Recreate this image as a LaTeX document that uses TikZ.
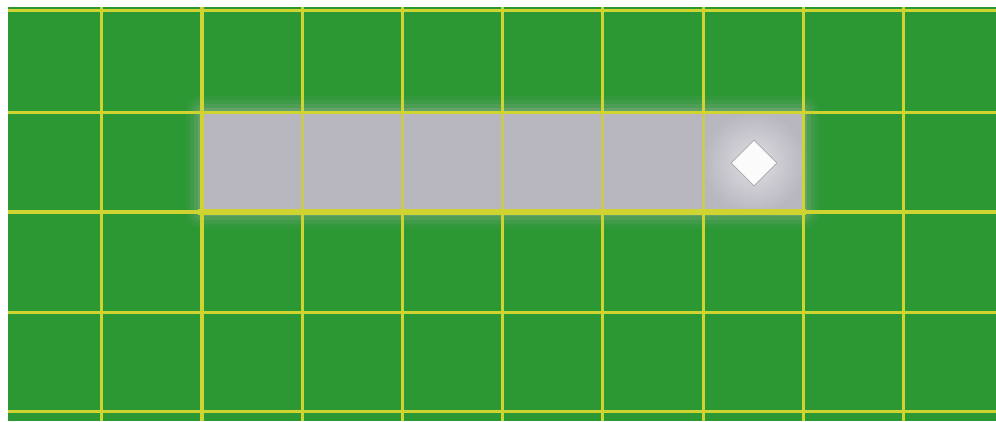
\documentclass[tikz,border=0pt]{standalone}
\usetikzlibrary{shapes.geometric}
\definecolor{turf}{RGB}{44,152,52}
\definecolor{gridyel}{RGB}{208,212,48}
\definecolor{slab}{RGB}{184,183,192}
\begin{document}
\begin{tikzpicture}[x=1pt,y=-1pt,
  gridline/.style={draw=gridyel,line width=3pt},
  boldline/.style={draw=gridyel,line width=4pt},
  edgeline/.style={draw=gridyel,line width=6.5pt}]
\useasboundingbox (0,0) rectangle (996,421);
\fill[white] (0,0) rectangle (996,421);
\fill[turf] (8,7) rectangle (996,421);
% soft glow around the slab
\foreach \w/\o in {16/0.06,12/0.09,8/0.13,4/0.2}
  \fill[slab,opacity=\o,rounded corners=\w pt] (202-\w,112-\w) rectangle (803+\w,212+\w);
\fill[slab] (202,112) rectangle (803,212);
\begin{scope}
  \clip (202,112) rectangle (803,212);
  \shade[inner color=white!80!slab, outer color=slab] (754,163) circle (52);
\end{scope}
% grid
\foreach \x in {101,302,402,502,602,703,803,903}
  \draw[gridline] (\x,7) -- (\x,421);
\draw[boldline] (202,7) -- (202,421);
\foreach \y in {10,112,312,411}
  \draw[gridline] (8,\y) -- (996,\y);
\draw[boldline] (8,212) -- (996,212);
% wash lines inside slab
\fill[slab,opacity=0.3] (204,114) rectangle (801,209);
\draw[edgeline] (198,212) -- (806,212);
\draw[gridline] (202,112) -- (803,112);
% diamond marker
\node[diamond,fill=white!97!gray,draw=gray!70,line width=0.8pt,minimum width=46pt,minimum height=46pt,inner sep=0pt] (gem) at (754,163) {};
\end{tikzpicture}
\end{document}
